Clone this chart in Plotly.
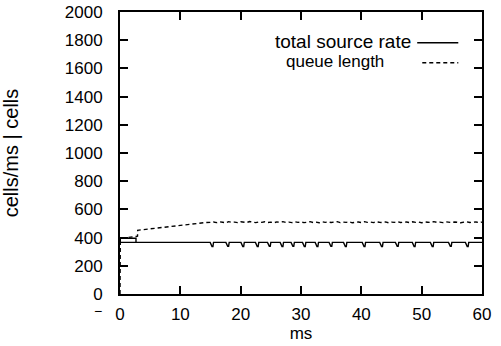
import plotly.graph_objects as go

# ---------------- data ----------------
# total source rate (cells/ms), solid line
src_x = [2.65, 0.05, 0.05, 2.65, 2.65,
         14.95, 15.25, 15.4, 15.5,
         17.55, 17.85, 18.0, 18.1,
         20.05, 20.35, 20.5, 20.6,
         22.45, 22.75, 22.9, 23.0,
         24.45, 24.75, 24.9, 25.0,
         26.55, 26.85, 27.0, 27.1,
         28.35, 28.65, 28.8, 28.9,
         30.25, 30.55, 30.7, 30.8,
         32.35, 32.65, 32.8, 32.9,
         34.65, 34.95, 35.1, 35.2,
         37.05, 37.35, 37.5, 37.6,
         40.15, 40.45, 40.6, 40.7,
         43.05, 43.35, 43.5, 43.6,
         45.65, 45.95, 46.1, 46.2,
         48.45, 48.75, 48.9, 49.0,
         51.45, 51.75, 51.9, 52.0,
         54.45, 54.75, 54.9, 55.0,
         57.25, 57.55, 57.7, 57.8,
         60.0]
src_y = [366, 366, 395, 395, 366,
         366, 337, 337, 366,
         366, 338, 338, 366,
         366, 336, 336, 366,
         366, 337, 337, 366,
         366, 339, 339, 366,
         366, 337, 337, 366,
         366, 338, 338, 366,
         366, 336, 336, 366,
         366, 337, 337, 366,
         366, 338, 338, 366,
         366, 336, 336, 366,
         366, 337, 337, 366,
         366, 337, 337, 366,
         366, 338, 338, 366,
         366, 336, 336, 366,
         366, 337, 337, 366,
         366, 338, 338, 366,
         366, 337, 337, 366,
         366]

# queue length (cells), dashed line
q_x_start = [0.0, 0.05, 0.3, 1.0, 2.0, 2.9, 2.93, 3.5, 4.0, 5.0, 6.0, 7.0, 8.0,
             9.0, 10.0, 11.0, 12.0, 13.0, 14.0]
q_y_start = [0, 380, 395, 400, 405, 410, 452, 455, 458, 463, 468, 474, 479,
             484, 489, 494, 499, 503, 506]
q_y_steady = [508, 511, 506, 512, 509, 505, 513, 508, 510, 506, 512, 509, 507, 514,
              509, 506, 511, 508, 512, 507, 510, 505, 511, 509, 513, 507, 510, 506,
              512, 508, 511, 506, 509, 513, 507, 510, 505, 512, 508, 511, 507, 509,
              513, 506, 510, 508, 512, 505, 509, 511, 507, 513, 508, 510, 506, 512,
              509, 507, 511, 505, 510, 508, 513, 507, 509, 511, 506, 512, 508, 510,
              505, 511, 509, 507, 513, 508, 510, 506, 512, 509, 507, 511, 508, 505,
              510, 512, 507, 509, 511, 506, 510]
q_x_steady = [15 + 0.5 * i for i in range(len(q_y_steady))]

x_ticks = [0, 10, 20, 30, 40, 50, 60]
y_ticks = [0, 200, 400, 600, 800, 1000, 1200, 1400, 1600, 1800, 2000]

series_names = ["total source rate", "queue length"]

# ---------------- figure ----------------
FONT = "Liberation Sans, Arial, Helvetica, sans-serif"

fig = go.Figure()
fig.add_trace(go.Scatter(x=src_x, y=src_y, mode="lines", name=series_names[0],
                         line=dict(color="black", width=1.4), showlegend=False))
fig.add_trace(go.Scatter(x=q_x_start + q_x_steady, y=q_y_start + q_y_steady,
                         mode="lines", name=series_names[1],
                         line=dict(color="black", width=1.4, dash="4px,3px"),
                         showlegend=False))

axis_common = dict(showgrid=False, zeroline=False, showline=True, mirror="ticks",
                   linecolor="black", linewidth=1.8, ticks="inside", ticklen=8,
                   tickwidth=1.6, tickcolor="black", automargin=False,
                   tickfont=dict(family=FONT, size=17, color="black"))

fig.update_xaxes(range=[0, 60], tickvals=x_ticks, ticktext=[str(v) for v in x_ticks],
                 title=dict(text="ms", font=dict(family=FONT, size=17, color="black"),
                            standoff=2),
                 ticklabelstandoff=4, **axis_common)
fig.update_yaxes(range=[0, 2000], tickvals=y_ticks, ticktext=[str(v) for v in y_ticks],
                 title=dict(text="cells/ms | cells",
                            font=dict(family=FONT, size=20, color="black"),
                            standoff=42),
                 ticklabelstandoff=12, **axis_common)

# legend drawn gnuplot-style: text on the left, line sample on the right
fig.add_annotation(x=0.81, y=0.894, xref="paper", yref="paper", text=series_names[0],
                   showarrow=False, xanchor="right", yanchor="middle",
                   font=dict(family=FONT, size=19, color="black"))
fig.add_annotation(x=0.735, y=0.826, xref="paper", yref="paper", text=series_names[1],
                   showarrow=False, xanchor="right", yanchor="middle",
                   font=dict(family=FONT, size=17, color="black"))
fig.add_shape(type="line", xref="paper", yref="paper", x0=0.821, x1=0.9345,
              y0=0.891, y1=0.891, line=dict(color="black", width=1.4))
fig.add_shape(type="line", xref="paper", yref="paper", x0=0.835, x1=0.9345,
              y0=0.820, y1=0.820, line=dict(color="black", width=1.4, dash="4px,3px"))

# stray minus sign left of the x-axis origin label
fig.add_annotation(x=-0.062, y=-0.062, xref="paper", yref="paper", text="\u2212",
                   showarrow=False, xanchor="center", yanchor="middle",
                   font=dict(family=FONT, size=14, color="black"))

fig.update_layout(width=501, height=346, plot_bgcolor="white", paper_bgcolor="white",
                  margin=dict(l=120, r=19, t=12, b=52), showlegend=False)

fig.write_html("out.html", config={"displayModeBar": False},
               post_script="document.body.style.margin='0';document.body.style.overflow='hidden';")
